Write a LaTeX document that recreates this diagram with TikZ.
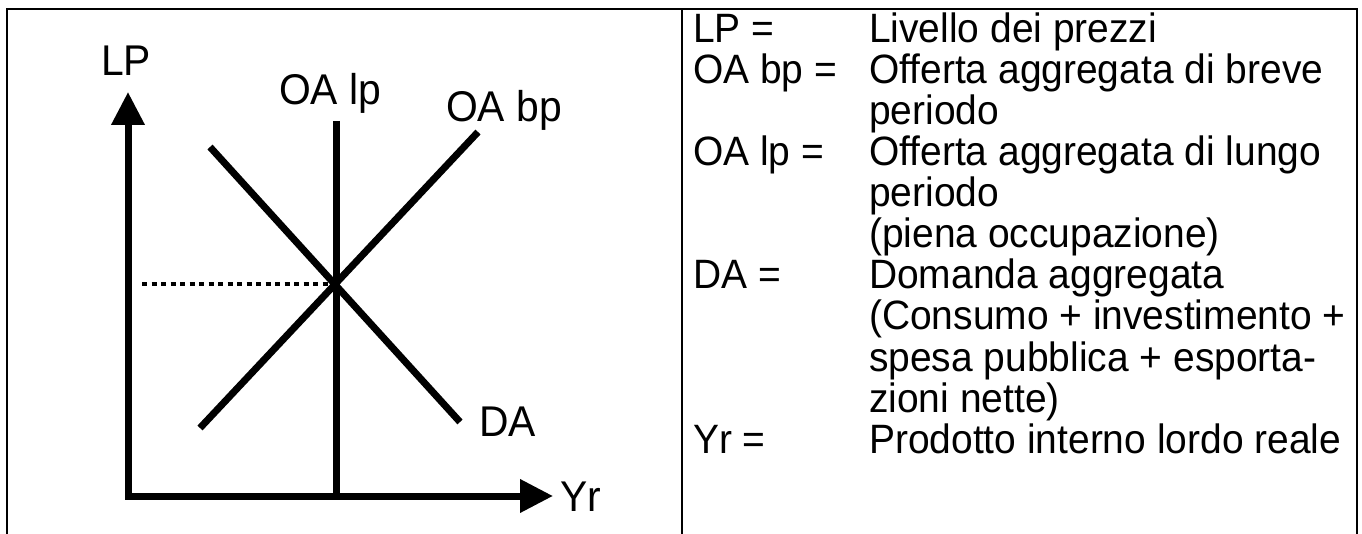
\documentclass[tikz,border=0pt]{standalone}
\usepackage{fontspec}
\setmainfont{Liberation Sans}
\newfontfamily\tallsans[FakeStretch=0.95]{Liberation Sans}
\usetikzlibrary{arrows.meta}

\begin{document}
\begin{tikzpicture}[x=1pt, y=-1pt,
  axis/.style={line width=7pt, {Triangle[length=33pt,width=32pt]}-{Triangle[length=33pt,width=32pt]}},
  curve/.style={line width=7pt},
  frame/.style={line width=2.5pt},
  lbl/.style={anchor=base west, inner sep=0pt, font=\tallsans\fontsize{43}{43}\selectfont},
  legend/.style={anchor=base west, inner sep=0pt, font=\tallsans\fontsize{41}{41}\selectfont}]
  \useasboundingbox (0,0) rectangle (1362,534);
  % table frame
  \coordinate (TL) at (7,9);
  \coordinate (TR) at (1357,9);
  \coordinate (TM) at (682,9);
  \draw [frame] (7,540) -- (TL) -- (TR) -- (1357,540);
  \draw [frame] (TM) -- (682,540);
  % axes
  \coordinate (O) at (128,496);
  \coordinate (Ytip) at (128,92);
  \coordinate (Xtip) at (553,496);
  \draw [axis] (Ytip) -- (O) -- (Xtip);
  \node (LP) [lbl] at (101,76) {LP};
  \node (Yr) [lbl] at (560,511) {Yr};
  % curves
  \coordinate (Eq) at (335,284);
  \coordinate (LRtop) at (336,121);
  \coordinate (LRbot) at (336,496);
  \coordinate (SRlo) at (200,428);
  \coordinate (SRhi) at (478,132);
  \coordinate (ADhi) at (210,147);
  \coordinate (ADlo) at (460,422);
  \coordinate (Peq) at (142,284);
  \draw [curve] (LRtop) -- (LRbot);
  \draw [curve] (SRlo) -- (SRhi);
  \draw [curve] (ADhi) -- (ADlo);
  \draw [line width=4pt, dash pattern=on 5pt off 4.5pt] (Peq) -- (Eq);
  \node (OAlp) [lbl] at (279,105) {OA lp};
  \node (OAbp) [lbl] at (446,122) {OA bp};
  \node (DA) [lbl] at (479,436) {DA};
  % legend
  \foreach \k/\r in {LP =/0, OA bp =/1, OA lp =/3, DA =/6, Yr =/10}
    \node (key\r) [legend] at (693,43+41*\r) {\k};
  \foreach \t [count=\i from 0] in {Livello dei prezzi, Offerta aggregata di breve,
      periodo, Offerta aggregata di lungo, periodo, {(piena occupazione)},
      Domanda aggregata, {(Consumo + investimento +}, spesa pubblica + esporta-,
      {zioni nette)}, Prodotto interno lordo reale}
    \node (desc\i) [legend] at (869,43+41*\i) {\t};
\end{tikzpicture}
\end{document}
